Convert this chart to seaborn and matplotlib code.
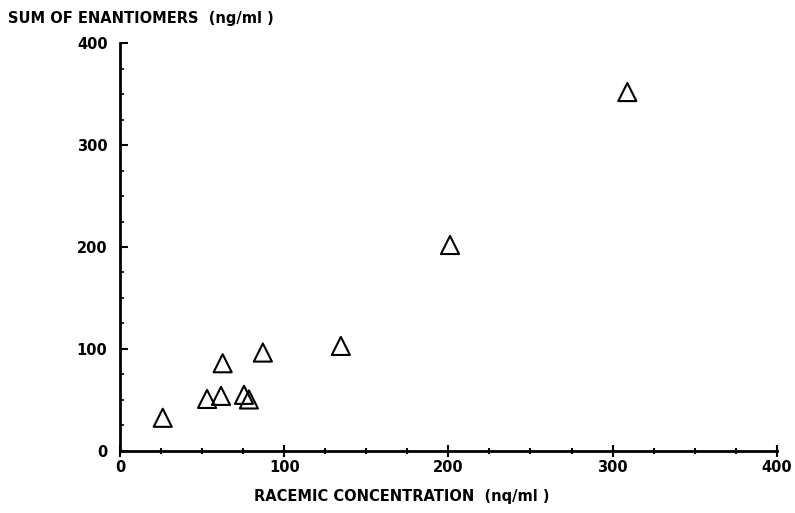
import matplotlib
matplotlib.use("Agg")
import matplotlib.pyplot as plt
from matplotlib.ticker import MultipleLocator
import seaborn as sns
import pandas as pd

racemic = [26, 53, 61.5, 62.5, 75.5, 78.5, 87, 134.5, 201, 309]
enantiomer_sum = [32.5, 51, 54, 86, 55, 50.5, 96.5, 103, 202, 352]
x_ticks = [0, 100, 200, 300, 400]
y_ticks = [0, 100, 200, 300, 400]

df = pd.DataFrame({"racemic": racemic, "sum": enantiomer_sum})

sns.set_style("white")
plt.rcParams['font.family'] = ['DejaVu Sans']
plt.rcParams['text.color'] = 'black'
plt.rcParams['xtick.color'] = 'black'
plt.rcParams['ytick.color'] = 'black'

fig = plt.figure(figsize=(7.95, 5.13), dpi=100)
ax = fig.add_axes([0.151, 0.121, 0.826, 0.795])

sns.scatterplot(data=df, x="racemic", y="sum", marker="^", s=170,
                facecolor="none", edgecolor="black", linewidth=1.5, ax=ax)

ax.set_xlim(0, 400)
ax.set_ylim(0, 400)
ax.set_xticks(x_ticks)
ax.set_yticks(y_ticks)
ax.xaxis.set_minor_locator(MultipleLocator(25))
ax.yaxis.set_minor_locator(MultipleLocator(25))
ax.tick_params(axis="x", which="both", bottom=True, colors="black")
ax.tick_params(axis="y", which="both", left=True, colors="black")
ax.tick_params(axis="x", which="major", direction="inout", length=9, width=1.5,
               labelsize=10.5, pad=2)
ax.tick_params(axis="x", which="minor", direction="inout", length=5, width=1.5)
ax.tick_params(axis="y", which="major", direction="in", length=6, width=1.5,
               labelsize=10.5, pad=9)
ax.tick_params(axis="y", which="minor", direction="in", length=3, width=1.2)
for lab in ax.get_xticklabels() + ax.get_yticklabels():
    lab.set_fontweight("bold")

sns.despine(ax=ax)
for sp in ("left", "bottom"):
    ax.spines[sp].set_linewidth(2)
    ax.spines[sp].set_color("black")

ax.set_xlabel("")
ax.set_ylabel("")
fig.text(402 / 795, 1 - 496 / 513, "RACEMIC CONCENTRATION  (nq/ml )", ha="center",
         va="center", fontsize=10.5, fontweight="bold")
fig.text(8 / 795, 1 - 19 / 513, "SUM OF ENANTIOMERS  (ng/ml )", ha="left",
         va="center", fontsize=10.5, fontweight="bold")

fig.savefig("out.png", dpi=100)
